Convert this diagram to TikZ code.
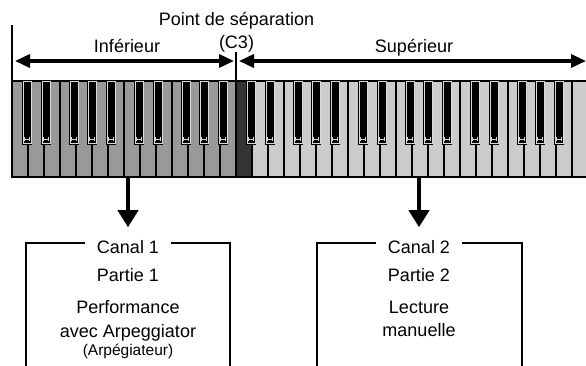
\documentclass[tikz,border=0pt]{standalone}
\usepackage{fontspec}
\setmainfont{Liberation Sans}
\usetikzlibrary{arrows.meta}

\definecolor{lowkey}{gray}{0.6}
\definecolor{upkey}{gray}{0.8}
\definecolor{splitkey}{gray}{0.2}
\definecolor{glint}{gray}{0.85}

\begin{document}
\begin{tikzpicture}[
		x=1pt, y=-1pt,
		font=\fontsize{18}{23.4}\selectfont,
		span/.style={{Triangle[length=15pt,width=13pt]}-{Triangle[length=15pt,width=13pt]}, line width=3.5pt},
		feed/.style={-{Triangle[length=17pt,width=20pt]}, line width=4pt},
		guide/.style={line width=1.1pt},
		boxline/.style={line width=1.2pt},
		wkey/.style={draw=black, line width=1.1pt},
		keyglint/.style={draw=glint, line width=0.7pt},
		chan/.style={inner xsep=12pt, inner ysep=0pt}
		]
		
		\useasboundingbox (0,0) rectangle (586,366);
		
		% Keyboard
		\begin{scope}
			\clip (11,80) rectangle (586,178);
			\foreach \i in {0,...,13}
				\filldraw[wkey, fill=lowkey] (12+16*\i,81) rectangle ++(16,96);
			\filldraw[wkey, fill=splitkey] (236,81) rectangle ++(16,96);
			\foreach \i in {15,...,35}
				\filldraw[wkey, fill=upkey] (12+16*\i,81) rectangle ++(16,96);
			% black keys
			\foreach \o in {0,...,4}
				\foreach \b in {10,29,57,75,94}{
					\pgfmathsetmacro{\bx}{12+112*\o+\b}
					\fill[black] (\bx,81) rectangle ++(10.4,64);
					\draw[keyglint] (\bx+1.5,81) rectangle (\bx+8.9,143.2);
					\draw[keyglint] (\bx+2.6,137) -- ++(0,4.5) (\bx+7.8,137) -- ++(0,4.5)
						(\bx+2.6,139.3) -- (\bx+7.8,139.3);
				}
		\end{scope}
		
		% Split point
		\coordinate (kbL) at (12,81);
		\coordinate (kbS) at (236,81);
		\draw[guide] (kbL) -- (12,25);
		\draw[guide] (kbS) -- (236,52);
		
		\node (sep) at (236.5,21) {Point de séparation};
		\node (c3) at (236.5,44) {(C3)};
		
		% Ranges
		\coordinate (infA) at (15,61);
		\coordinate (infB) at (234,61);
		\coordinate (supA) at (239,61);
		\coordinate (supB) at (586,61);
		\draw[span] (infA) -- (infB);
		\draw[span] (supA) -- (supB);
		\node (inf) at (127,46) {Inférieur};
		\node (sup) at (414,48) {Supérieur};
		
		% Channel 1
		\node[chan] (canal1) at (128,247) {Canal 1};
		\node (partie1) at (128,275) {Partie 1};
		\node[align=center] (perf1) at (128,321) {Performance\\avec Arpeggiator};
		\node[font=\fontsize{15.5}{18}\selectfont] (arp1) at (128,351) {(Arpégiateur)};
		\draw[boxline] ([yshift=4pt]canal1.west) -| (26,366);
		\draw[boxline] ([yshift=4pt]canal1.east) -| (230,366);
		
		% Channel 2
		\node[chan] (canal2) at (419,247) {Canal 2};
		\node (partie2) at (419,275) {Partie 2};
		\node[align=center] (lect2) at (419,319) {Lecture\\manuelle};
		\draw[boxline] ([yshift=4pt]canal2.west) -| (317,366);
		\draw[boxline] ([yshift=4pt]canal2.east) -| (522,366);
		
		% Outputs
		\coordinate (outL) at (128,177);
		\coordinate (outR) at (419,177);
		\draw[feed, shorten >=13pt] (outL) -- (canal1.north);
		\draw[feed, shorten >=13pt] (outR) -- (canal2.north);
		
	\end{tikzpicture}
\end{document}
